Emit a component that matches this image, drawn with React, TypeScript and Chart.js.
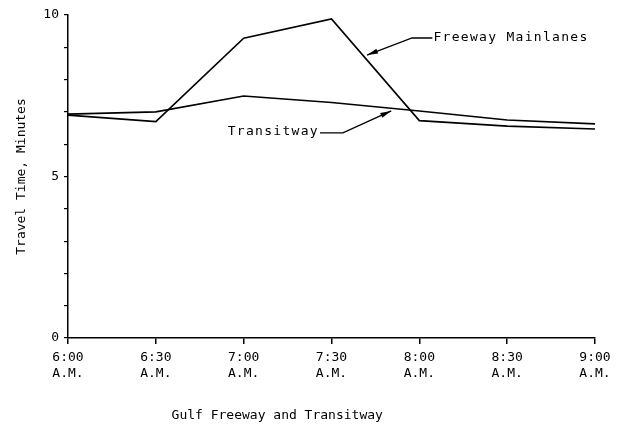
import React, { useEffect, useRef } from "react";
import { Chart, registerables } from "chart.js";

Chart.register(...registerables);

const categories: string[][] = [
  ["6:00", "A.M."],
  ["6:30", "A.M."],
  ["7:00", "A.M."],
  ["7:30", "A.M."],
  ["8:00", "A.M."],
  ["8:30", "A.M."],
  ["9:00", "A.M."],
];
const freewayMainlanes = [6.9, 6.7, 9.28, 9.88, 6.73, 6.56, 6.47];
const transitway = [6.93, 7.0, 7.49, 7.29, 7.03, 6.75, 6.63];
const yLabelValues = [0, 5, 10];
const yAxisTitle = "Travel Time, Minutes";
const xAxisTitle = "Gulf Freeway and Transitway";

// callout annotations in data space (category index, value)
const callouts = [
  { text: "Freeway Mainlanes", align: "left", textAt: [4.16, 9.29], elbow: [3.917, 9.29], tip: [3.404, 8.76] },
  { text: "Transitway", align: "right", textAt: [2.846, 6.38], elbow: [3.13, 6.35], tip: [3.68, 7.03] },
];

const FONT = "'DejaVu Sans Mono', 'Liberation Mono', monospace";

const calloutPlugin = {
  id: "callouts",
  afterDraw(chart: any) {
    const { ctx, scales, chartArea } = chart;
    const xs = scales.x;
    const ys = scales.y;
    ctx.save();
    ctx.fillStyle = "#000";
    ctx.strokeStyle = "#000";
    ctx.lineWidth = 1.4;
    ctx.font = `13px ${FONT}`;
    ctx.textBaseline = "middle";
    for (const c of callouts) {
      const tx = xs.getPixelForValue(c.textAt[0]);
      const ty = ys.getPixelForValue(c.textAt[1]);
      ctx.letterSpacing = "1.3px";
      ctx.textAlign = c.align;
      ctx.fillText(c.text, c.align === "right" ? tx + 1 : tx, ty);
      ctx.letterSpacing = "0px";
      const sx = c.align === "left" ? tx - 1 : tx + 2;
      const sy = ys.getPixelForValue(c.elbow[1]);
      const ex = xs.getPixelForValue(c.elbow[0]);
      const px = xs.getPixelForValue(c.tip[0]);
      const py = ys.getPixelForValue(c.tip[1]);
      ctx.beginPath();
      ctx.moveTo(sx, sy);
      ctx.lineTo(ex, sy);
      ctx.lineTo(px, py);
      ctx.stroke();
      // arrowhead
      const ang = Math.atan2(py - sy, px - ex);
      const len = 11;
      const w = 2.6;
      const bx = px - Math.cos(ang) * len;
      const by = py - Math.sin(ang) * len;
      ctx.beginPath();
      ctx.moveTo(px, py);
      ctx.lineTo(bx + Math.sin(ang) * w, by - Math.cos(ang) * w);
      ctx.lineTo(bx - Math.sin(ang) * w, by + Math.cos(ang) * w);
      ctx.closePath();
      ctx.fill();
    }
    // bottom caption
    ctx.font = `13px ${FONT}`;
    ctx.textAlign = "center";
    ctx.textBaseline = "middle";
    ctx.fillText(xAxisTitle, chartArea.left + chartArea.width * 0.397, chart.height - 11);
    ctx.restore();
  },
};

export default function App() {
  const ref = useRef<HTMLCanvasElement>(null);
  useEffect(() => {
    if (!ref.current) return;
    const chart = new Chart(ref.current, {
      type: "line",
      data: {
        labels: categories,
        datasets: [
          {
            label: "Freeway Mainlanes",
            data: freewayMainlanes,
            borderColor: "#000",
            borderWidth: 1.6,
            pointRadius: 0,
            tension: 0,
            fill: false,
          },
          {
            label: "Transitway",
            data: transitway,
            borderColor: "#000",
            borderWidth: 1.6,
            pointRadius: 0,
            tension: 0,
            fill: false,
          },
        ],
      },
      options: {
        animation: false,
        responsive: false,
        devicePixelRatio: 1,
        layout: { padding: { top: 15, right: 29, bottom: 0, left: 0 } },
        plugins: { legend: { display: false }, tooltip: { enabled: false }, title: { display: false } },
        scales: {
          x: {
            type: "category",
            offset: false,
            grid: { display: true, drawOnChartArea: false, drawTicks: true, tickLength: 6, color: "#000", lineWidth: 1.5 },
            border: { display: true, color: "#000", width: 1.5 },
            ticks: {
              color: "#000",
              font: { family: FONT, size: 13, lineHeight: 1.23 },
              padding: 6,
              maxRotation: 0,
              autoSkip: false,
            },
            afterFit(scale: any) {
              scale.height = 89;
            },
          },
          y: {
            min: 0,
            max: 10,
            grid: { display: true, drawOnChartArea: false, drawTicks: true, tickLength: 4, color: "#000", lineWidth: 1.2 },
            border: { display: true, color: "#000", width: 1.5 },
            ticks: {
              stepSize: 1,
              autoSkip: false,
              color: "#000",
              padding: 5,
              font: { family: FONT, size: 13 },
              callback: (v: any) => (yLabelValues.includes(Number(v)) ? String(v) : ""),
            },
            title: {
              display: true,
              text: yAxisTitle,
              color: "#000",
              font: { family: FONT, size: 13 },
              padding: { top: 14, bottom: 0 },
            },
            afterFit(scale: any) {
              scale.width = 68;
            },
          },
        },
      },
      plugins: [calloutPlugin],
    });
    return () => chart.destroy();
  }, []);
  return (
    <div style={{ position: "absolute", left: 0, top: 0, width: 624, height: 427, background: "#fff" }}>
      <canvas ref={ref} width={624} height={427} style={{ display: "block" }} />
    </div>
  );
}
